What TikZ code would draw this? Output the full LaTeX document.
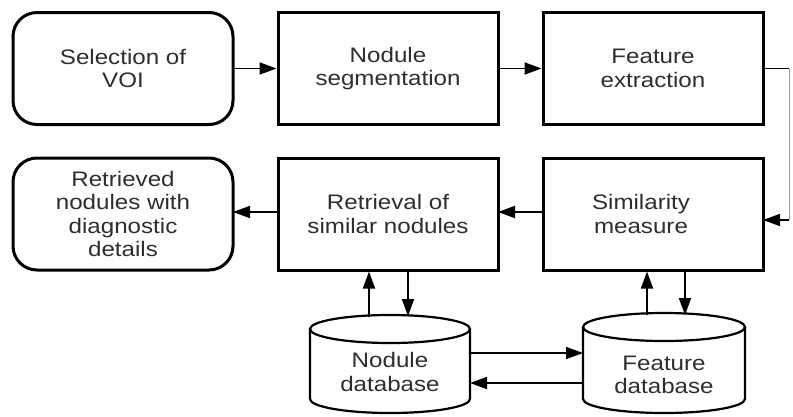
\documentclass[tikz,border=0pt]{standalone}
\usepackage{fontspec}
\setmainfont{Liberation Sans}[FakeStretch=1.15]
\usetikzlibrary{arrows.meta,calc}
\definecolor{txt}{HTML}{2E2E2E}
\begin{document}
\begin{tikzpicture}[x=1pt,y=1pt,
  box/.style={draw=black, line width=3pt, fill=white, minimum width=220pt, minimum height=112pt,
    align=center, text=txt, font=\fontsize{21}{23.5}\selectfont, inner sep=0pt},
  rbox/.style={box, rounded corners=24pt},
  lbl/.style={align=center, text=txt, font=\fontsize{21}{23.5}\selectfont, inner sep=0pt},
  conn/.style={line width=1.8pt, -{Triangle[length=17pt,width=12pt]}},
  cyl/.style={draw=black, line width=2.2pt}]
\useasboundingbox (0,0) rectangle (793,-416);
% row 1
\node[rbox] (A) at (123,-68.5) {Selection of\\VOI};
\node[box]  (B) at (388,-68.5) {Nodule\\segmentation};
\node[box]  (C) at (653,-68.5) {Feature\\extraction};
% row 2
\node[rbox] (D) at (123,-214) {Retrieved\\nodules with\\diagnostic\\details};
\node[box]  (E) at (388,-214) {Retrieval of\\similar nodules};
\node[box]  (F) at (653,-214) {};
\node[lbl]  (Ft) at (641,-214) {Similarity\\measure};
% cylinders
\draw[cyl, fill=white] (310,-329) -- (310,-399) arc[start angle=180,end angle=360,x radius=80,y radius=14] -- (470,-329);
\draw[cyl] (390,-329) ellipse[x radius=80,y radius=14];
\node[lbl] (ndb) at (390,-372) {Nodule\\database};
\draw[cyl, fill=white] (583,-327) -- (583,-399) arc[start angle=180,end angle=360,x radius=81,y radius=14] -- (745,-327);
\draw[cyl] (664,-327) ellipse[x radius=81,y radius=14];
\node[lbl] (fdb) at (664,-375) {Feature\\database};
% row 1 connectors
\draw[conn] (A.east) -- (B.west);
\draw[conn] (B.east) -- (C.west);
% feedback on the right edge
\coordinate (r1) at (789,-68.5);
\coordinate (r2) at (789,-220);
\coordinate (f1) at (763,-220);
\draw[line width=1.5pt] (C.east) -- (r1);
\draw[line width=1pt, black!40] (r1) -- (r2);
\draw[conn] (r2) -- (f1);
% row 2 connectors
\coordinate (fw) at (543,-212);
\coordinate (ee) at (498,-212);
\coordinate (ew) at (278,-212);
\coordinate (de) at (233,-212);
\draw[conn] (fw) -- (ee);
\draw[conn] (ew) -- (de);
% vertical connectors to databases
\coordinate (n1) at (369,-317);
\coordinate (n2) at (408,-316);
\coordinate (m1) at (647,-315);
\coordinate (m2) at (685,-315);
\draw[conn] (n1) -- (n1 |- E.south);
\draw[conn] (n2 |- E.south) -- (n2);
\draw[conn] (m1) -- (m1 |- F.south);
\draw[conn] (m2 |- F.south) -- (m2);
% database exchange
\coordinate (a1) at (470,-353);
\coordinate (a2) at (583,-353);
\coordinate (b1) at (583,-383);
\coordinate (b2) at (470,-383);
\draw[conn] (a1) -- (a2);
\draw[conn] (b1) -- (b2);
\end{tikzpicture}
\end{document}
